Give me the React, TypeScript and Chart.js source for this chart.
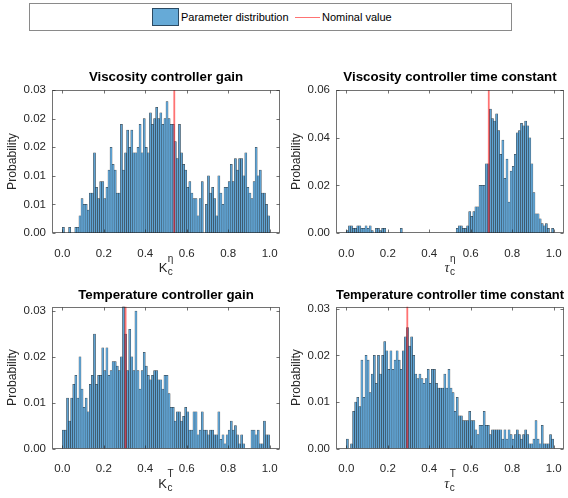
import React, { useEffect, useRef } from "react";
import { Chart, registerables } from "chart.js";

Chart.register(...registerables);

const FONT = '"Liberation Sans", Arial, Helvetica, sans-serif';
Chart.defaults.font.family = FONT;

// ---------------- data ----------------
// histogram bins of width 0.01 on [0, 1]
const binCenters: number[] = Array.from({ length: 100 }, (_, i) => (i + 0.5) / 100);

const xTickValues = [0, 0.2, 0.4, 0.6, 0.8, 1.0];
const xTickLabels = ["0.0", "0.2", "0.4", "0.6", "0.8", "1.0"];

// probabilities in per-mille (value / 1000)
const viscGainPermille = [
  1, 0, 0, 1, 0, 0, 1, 1, 3, 6,
  5, 5, 4, 7, 7, 14, 8, 6, 9, 9,
  6, 8, 11, 15, 12, 11, 7, 7, 19, 11,
  14, 18, 15, 18, 14, 14, 15, 19, 14, 20,
  15, 14, 21, 19, 20, 22, 20, 21, 19, 20,
  23, 20, 19, 19, 16, 13, 19, 14, 12, 11,
  8, 9, 7, 6, 6, 3, 6, 9, 0, 5,
  10, 7, 8, 6, 3, 10, 7, 5, 8, 8,
  9, 12, 9, 13, 11, 13, 13, 10, 14, 8,
  7, 6, 9, 15, 10, 11, 7, 7, 5, 3,
];

const viscTimePermille = [
  1, 3, 3, 2, 2, 3, 3, 2, 2, 3,
  2, 3, 1, 0, 2, 2, 1, 2, 2, 0,
  0, 0, 0, 0, 0, 0, 2, 0, 0, 0,
  0, 0, 0, 0, 0, 0, 0, 0, 0, 0,
  0, 0, 0, 0, 0, 0, 0, 0, 0, 0,
  0, 0, 0, 2, 3, 3, 2, 2, 3, 9,
  7, 9, 11, 11, 20, 20, 20, 29, 29, 52,
  48, 47, 50, 43, 33, 39, 23, 31, 13, 26,
  28, 33, 42, 43, 46, 45, 47, 45, 40, 29,
  17, 8, 8, 6, 4, 3, 4, 2, 0, 2,
];

const tempGainPermille = [
  4, 4, 11, 6, 11, 14, 16, 11, 20, 13,
  9, 11, 8, 14, 16, 25, 14, 16, 16, 22,
  17, 22, 16, 17, 19, 19, 18, 17, 20, 31,
  25, 17, 26, 20, 17, 30, 17, 13, 17, 21,
  18, 16, 15, 16, 17, 17, 15, 15, 13, 16,
  16, 12, 9, 9, 6, 8, 8, 6, 7, 9,
  8, 4, 4, 8, 8, 3, 4, 8, 4, 4,
  3, 4, 4, 3, 3, 8, 2, 3, 1, 3,
  4, 6, 4, 5, 3, 1, 3, 1, 0, 0,
  0, 4, 4, 3, 4, 1, 1, 6, 3, 3,
];

const tempTimePermille = [
  2, 0, 1, 8, 10, 11, 9, 19, 11, 20,
  19, 12, 16, 20, 14, 20, 16, 20, 23, 21,
  17, 21, 17, 19, 21, 19, 17, 21, 24, 26,
  22, 24, 20, 16, 15, 16, 15, 14, 15, 17,
  14, 17, 17, 14, 13, 13, 13, 16, 13, 17,
  13, 12, 8, 11, 7, 7, 6, 6, 6, 8,
  6, 6, 4, 3, 5, 5, 8, 5, 5, 3,
  4, 4, 4, 4, 4, 2, 4, 2, 4, 3,
  2, 3, 4, 3, 2, 3, 4, 3, 1, 1,
  2, 6, 2, 1, 5, 1, 1, 1, 3, 2,
];

const nominalViscGain = 0.54;
const nominalViscTime = 0.687;
const nominalTempGain = 0.305;
const nominalTempTime = 0.294;

const yTicksViscGain = [0, 0.005, 0.01, 0.015, 0.02, 0.025];
const yLabelsViscGain = ["0.00", "0.01", "0.01", "0.02", "0.02", "0.03"];
const yTicksViscTime = [0, 0.02, 0.04, 0.06];
const yLabelsViscTime = ["0.00", "0.02", "0.04", "0.06"];
const yTicksTemp = [0, 0.01, 0.02, 0.03];
const yLabelsTemp = ["0.00", "0.01", "0.02", "0.03"];

const titleViscGain = "Viscosity controller gain";
const titleViscTime = "Viscosity controller time constant";
const titleTempGain = "Temperature controller gain";
const titleTempTime = "Temperature controller time constant";

const yAxisTitle = "Probability";
const legendHistLabel = "Parameter distribution";
const legendLineLabel = "Nominal value";

// ---------------- plugin: MATLAB-like box, inner ticks, TeX-like x label ----------------
const matlabAxesPlugin = {
  id: "matlabAxes",
  afterDatasetsDraw(chart: any, _args: any, opts: any) {
    const { ctx, chartArea: a } = chart;
    const xs = chart.scales.x;
    const ys = chart.scales.y;
    ctx.save();
    ctx.strokeStyle = "rgba(38,38,38,0.65)";
    ctx.lineWidth = 1;
    const L = Math.round(a.left) + 0.5;
    const R = Math.round(a.right) - 0.5;
    const T = Math.round(a.top) + 0.5;
    const B = Math.round(a.bottom) - 0.5;
    ctx.strokeRect(L, T, R - L, B - T);
    const tl = 3;
    ctx.beginPath();
    for (const v of xTickValues) {
      const px = Math.round(xs.getPixelForValue(v)) + 0.5;
      ctx.moveTo(px, B);
      ctx.lineTo(px, B - tl);
      ctx.moveTo(px, T);
      ctx.lineTo(px, T + tl);
    }
    for (const v of opts.yTicks as number[]) {
      const py = Math.round(ys.getPixelForValue(v)) + 0.5;
      ctx.moveTo(L, py);
      ctx.lineTo(L + tl, py);
      ctx.moveTo(R, py);
      ctx.lineTo(R - tl, py);
    }
    ctx.stroke();
    ctx.restore();
  },
  afterDraw(chart: any, _args: any, opts: any) {
    const { ctx, chartArea: a } = chart;
    const lab = opts.xLabel;
    ctx.save();
    ctx.fillStyle = "#262626";
    ctx.textBaseline = "alphabetic";
    ctx.textAlign = "left";
    const small = `10px ${FONT}`;
    ctx.font = lab.mainFont;
    const wMain = ctx.measureText(lab.main).width;
    ctx.font = small;
    const wSub = ctx.measureText(lab.sub).width;
    const wSup = ctx.measureText(lab.sup).width;
    const total = wMain + 0.5 + Math.max(wSub, wSup);
    const cx = (a.left + a.right) / 2;
    const x0 = cx - total / 2;
    const base = a.bottom + 39;
    ctx.font = lab.mainFont;
    ctx.fillText(lab.main, x0, base);
    ctx.font = small;
    ctx.fillText(lab.sub, x0 + wMain + 0.5, base + 3);
    ctx.fillText(lab.sup, x0 + wMain + 0.5, base - 10.5);
    ctx.restore();
  },
};

type PanelProps = {
  left: number;
  top: number;
  width: number;
  height: number;
  padTop: number;
  titlePadBottom: number;
  xAxisHeight: number;
  title: string;
  values: number[];
  nominal: number;
  yMax: number;
  yTicks: number[];
  yLabels: string[];
  xLabel: { main: string; mainFont: string; sub: string; sup: string };
};

function Panel(p: PanelProps) {
  const ref = useRef<HTMLCanvasElement | null>(null);
  useEffect(() => {
    if (!ref.current) return;
    const barData = binCenters.map((x, i) => ({ x, y: p.values[i] / 1000 }));
    const chart = new Chart(ref.current, {
      type: "bar",
      data: {
        datasets: [
          {
            type: "line",
            data: [
              { x: p.nominal, y: 0 },
              { x: p.nominal, y: p.yMax },
            ],
            borderColor: "rgba(255,0,0,0.55)",
            borderWidth: 1.8,
            pointRadius: 0,
            order: 0,
          } as any,
          {
            type: "bar",
            data: barData,
            backgroundColor: "#5fa3d3",
            borderColor: "rgba(20,20,20,0.85)",
            borderWidth: { left: 0.45, top: 0.5, right: 0.45, bottom: 0 },
            borderSkipped: false,
            barPercentage: 1,
            categoryPercentage: 1,
            order: 1,
          } as any,
        ],
      },
      options: {
        responsive: false,
        maintainAspectRatio: false,
        animation: false,
        layout: { padding: { top: p.padTop, right: 4, left: 0, bottom: 0 } },
        plugins: {
          legend: { display: false },
          tooltip: { enabled: false },
          title: {
            display: true,
            text: p.title,
            color: "#000",
            fullSize: false,
            font: { family: FONT, size: 13.3, weight: "bold" },
            padding: { top: 0, bottom: p.titlePadBottom },
          },
          matlabAxes: { yTicks: p.yTicks, xLabel: p.xLabel },
        } as any,
        scales: {
          x: {
            type: "linear",
            min: -0.05,
            max: 1.05,
            offset: false,
            grid: { display: false },
            border: { display: false },
            afterBuildTicks: (s: any) => {
              s.ticks = xTickValues.map((v) => ({ value: v }));
            },
            afterFit: (s: any) => {
              s.height = p.xAxisHeight;
            },
            ticks: {
              autoSkip: false,
              maxRotation: 0,
              minRotation: 0,
              padding: 5.5,
              color: "#262626",
              font: { family: FONT, size: 11.5 },
              callback: (_v: any, i: number) => xTickLabels[i],
            },
          },
          y: {
            type: "linear",
            min: 0,
            max: p.yMax,
            grid: { display: false, drawTicks: false },
            border: { display: false },
            afterBuildTicks: (s: any) => {
              s.ticks = p.yTicks.map((v) => ({ value: v }));
            },
            afterFit: (s: any) => {
              s.width = 52;
            },
            ticks: {
              padding: 6,
              color: "#262626",
              font: { family: FONT, size: 11.5 },
              callback: (_v: any, i: number) => p.yLabels[i],
            },
            title: {
              display: true,
              text: yAxisTitle,
              color: "#262626",
              font: { family: FONT, size: 12.2 },
              padding: { top: 5, bottom: 0 },
            },
          },
        } as any,
      },
      plugins: [matlabAxesPlugin as any],
    });
    return () => chart.destroy();
  }, []);
  return (
    <canvas
      ref={ref}
      width={p.width}
      height={p.height}
      style={{
        position: "absolute",
        left: p.left,
        top: p.top,
        width: p.width,
        height: p.height,
        display: "block",
      }}
    />
  );
}

const sansLabel = `13px ${FONT}`;
const greekLabel = `italic 14px "Liberation Serif", "DejaVu Serif", serif`;

export default function App() {
  return (
    <div
      style={{
        position: "absolute",
        left: 0,
        top: 0,
        width: 568,
        height: 498,
        background: "#fff",
        overflow: "hidden",
        fontFamily: FONT,
      }}
    >
      {/* legend */}
      <div
        style={{
          position: "absolute",
          left: 29,
          top: 3,
          width: 483,
          height: 28,
          boxSizing: "border-box",
          border: "1px solid #8a8a8a",
          background: "#fff",
        }}
      />
      <div
        style={{
          position: "absolute",
          left: 152,
          top: 8,
          width: 27,
          height: 18,
          boxSizing: "border-box",
          border: "1px solid #2b4a63",
          background: "#66AAD7",
        }}
      />
      <div
        style={{
          position: "absolute",
          left: 181,
          top: 8,
          height: 18,
          lineHeight: "18px",
          fontSize: 11,
          color: "#000",
          whiteSpace: "nowrap",
        }}
      >
        {legendHistLabel}
      </div>
      <div
        style={{
          position: "absolute",
          left: 295,
          top: 16.5,
          width: 25,
          height: 1.3,
          background: "rgba(255,0,0,0.55)",
        }}
      />
      <div
        style={{
          position: "absolute",
          left: 322,
          top: 8,
          height: 18,
          lineHeight: "18px",
          fontSize: 11,
          color: "#000",
          whiteSpace: "nowrap",
        }}
      >
        {legendLineLabel}
      </div>

      <Panel
        left={0}
        top={56}
        width={284}
        height={228}
        padTop={13.6}
        titlePadBottom={4.5}
        xAxisHeight={51}
        title={titleViscGain}
        values={viscGainPermille}
        nominal={nominalViscGain}
        yMax={0.025}
        yTicks={yTicksViscGain}
        yLabels={yLabelsViscGain}
        xLabel={{ main: "K", mainFont: sansLabel, sub: "c", sup: "η" }}
      />
      <Panel
        left={284}
        top={56}
        width={284}
        height={228}
        padTop={13.6}
        titlePadBottom={4.5}
        xAxisHeight={51}
        title={titleViscTime}
        values={viscTimePermille}
        nominal={nominalViscTime}
        yMax={0.06}
        yTicks={yTicksViscTime}
        yLabels={yLabelsViscTime}
        xLabel={{ main: "τ", mainFont: greekLabel, sub: "c", sup: "η" }}
      />
      <Panel
        left={0}
        top={272}
        width={284}
        height={226}
        padTop={15.8}
        titlePadBottom={2.8}
        xAxisHeight={49.5}
        title={titleTempGain}
        values={tempGainPermille}
        nominal={nominalTempGain}
        yMax={0.031}
        yTicks={yTicksTemp}
        yLabels={yLabelsTemp}
        xLabel={{ main: "K", mainFont: sansLabel, sub: "c", sup: "T" }}
      />
      <Panel
        left={284}
        top={272}
        width={284}
        height={226}
        padTop={15.8}
        titlePadBottom={2.8}
        xAxisHeight={49.5}
        title={titleTempTime}
        values={tempTimePermille}
        nominal={nominalTempTime}
        yMax={0.0305}
        yTicks={yTicksTemp}
        yLabels={yLabelsTemp}
        xLabel={{ main: "τ", mainFont: greekLabel, sub: "c", sup: "T" }}
      />
    </div>
  );
}
